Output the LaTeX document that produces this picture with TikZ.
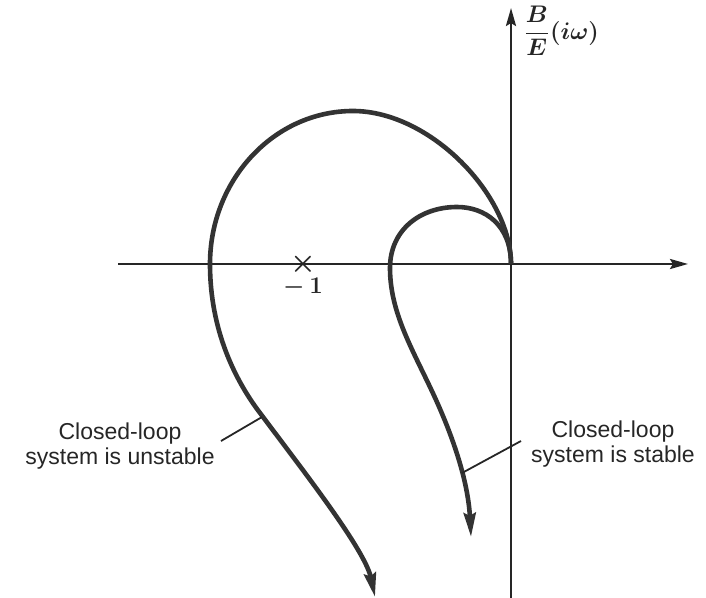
\documentclass[tikz,border=0pt]{standalone}
\usepackage{amsmath}
\usepackage{fontspec}
\setsansfont{Liberation Sans}
\usetikzlibrary{arrows.meta}
\tikzset{
  axis/.style  = {-{Stealth[length=9pt,width=5pt,inset=1.5pt]}, line width=1.3pt, black!85},
  locus/.style = {-{Stealth[length=12pt,width=6pt,inset=1.5pt]}, line width=2.3pt, black!80},
  lead/.style  = {line width=0.9pt, black!85},
  note/.style  = {font=\sffamily\fontsize{11.5}{12.5}\selectfont, text=black!85, align=center, inner sep=0pt}
}

\begin{document}
\begin{tikzpicture}[x=0.5pt, y=-0.5pt]
  \useasboundingbox (0,0) rectangle (706,598);
  % axes
  \coordinate (O) at (511,264);
  \coordinate (re0) at (118,264);
  \coordinate (re1) at (688,264);
  \coordinate (im0) at (511,598);
  \coordinate (im1) at (511,8);
  \draw[axis] (re0) -- (re1);
  \draw[axis] (im0) -- (im1);
  \node[anchor=west, inner sep=0pt, text=black!85, font=\large] (gain) at (523,31)
    {$\dfrac{\boldsymbol{B}}{\boldsymbol{E}}\boldsymbol{(i\omega)}$};
  % critical point
  \node[font=\Large, inner sep=0pt, text=black!85] (crit) at (303,264) {$\boldsymbol{\times}$};
  \node[below=7pt, inner sep=0pt, font=\large, text=black!85] (critlbl) at (crit) {$\boldsymbol{-\,1}$};
  % unstable locus
  \draw[locus] (O) .. controls (511,195) and (430,111) .. (353,111)
    .. controls (274,111) and (210,180) .. (210,264)
    .. controls (210,330) and (235,380) .. (260,413)
    .. controls (305,473) and (365,550) .. (375,597);
  % stable locus
  \draw[locus] (O) .. controls (511,225) and (485,207) .. (457,207)
    .. controls (420,207) and (390,230) .. (390,268)
    .. controls (390,310) and (410,345) .. (430,387)
    .. controls (452,433) and (468,480) .. (471,537);
  % labels
  \node[note] (unst) at (120,446) {Closed-loop\\system is unstable};
  \node[note] (st) at (613,444) {Closed-loop\\system is stable};
  \coordinate (pu) at (262,417);
  \coordinate (ps) at (462,473);
  \coordinate (ps1) at (521,441);
  \draw[lead] (unst.east) ++(6,-5) coordinate (lu) -- (pu);
  \draw[lead] (ps) -- (ps1);
\end{tikzpicture}
\end{document}
